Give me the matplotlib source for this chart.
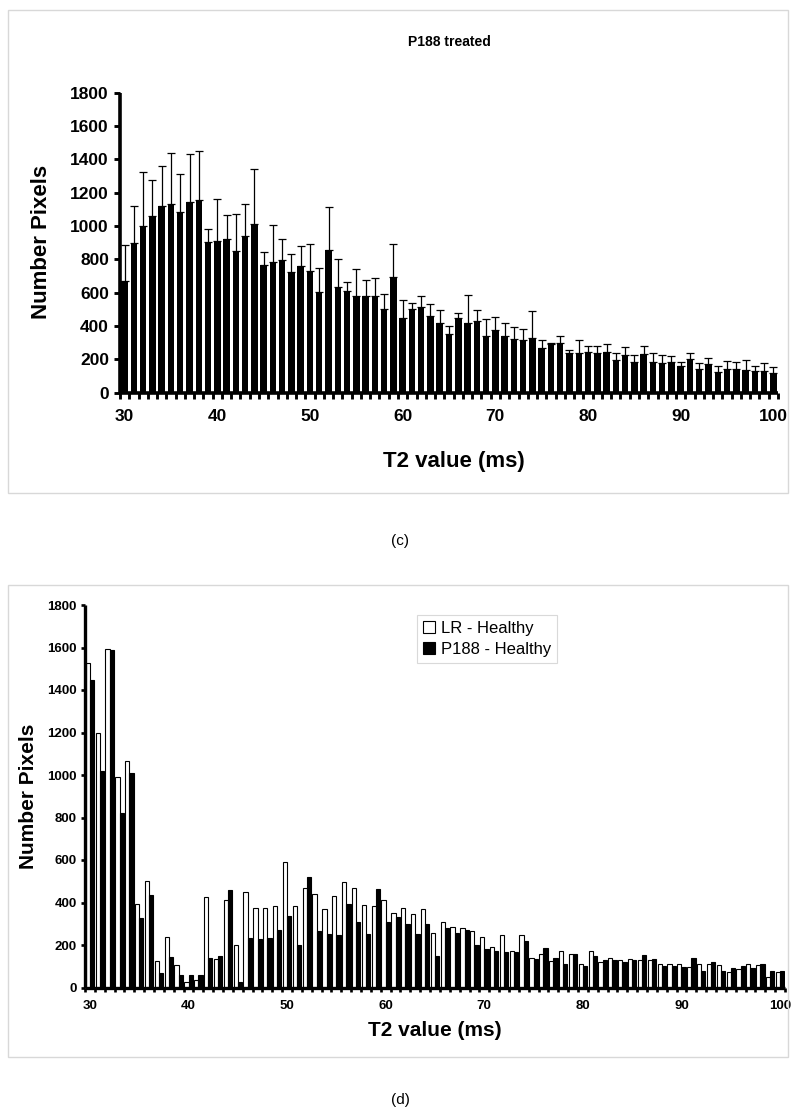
import numpy as np
import matplotlib
matplotlib.use("Agg")
import matplotlib.pyplot as plt
from matplotlib.patches import Rectangle, Patch

# ---------------- data ----------------
t2_values = list(range(30, 101))
xtick_labels = ['30', '40', '50', '60', '70', '80', '90', '100']
ytick_values = [0, 200, 400, 600, 800, 1000, 1200, 1400, 1600, 1800]

# (c) P188 treated: mean and upper error
treated_mean = [670, 900, 1000, 1060, 1120, 1135, 1085, 1145, 1155, 905,
                910, 925, 850, 940, 1015, 765, 785, 795, 725, 760,
                728, 607, 857, 635, 612, 582, 580, 580, 504, 692,
                447, 500, 516, 462, 420, 350, 446, 420, 428, 343,
                378, 343, 322, 314, 330, 270, 290, 296, 236, 240,
                246, 240, 246, 198, 226, 184, 234, 184, 178, 184,
                158, 204, 142, 170, 124, 142, 142, 136, 130, 130,
                116]
treated_top = [885, 1120, 1325, 1275, 1360, 1440, 1315, 1435, 1450, 980,
               1165, 1065, 1070, 1135, 1340, 845, 1005, 920, 835, 880,
               892, 746, 1116, 800, 664, 740, 676, 690, 592, 893,
               555, 536, 578, 534, 498, 400, 478, 588, 498, 444,
               456, 420, 394, 380, 490, 316, 300, 342, 258, 316,
               282, 282, 294, 238, 276, 226, 282, 238, 226, 218,
               184, 238, 178, 210, 158, 190, 184, 196, 158, 176,
               156]
treated_err = [t - m for t, m in zip(treated_top, treated_mean)]

# (d) differences
lr_healthy = [1525, 1200, 1595, 990, 1065, 395, 500, 125, 240, 105,
              25, 35, 425, 135, 410, 200, 450, 375, 375, 385,
              590, 385, 470, 440, 370, 430, 495, 470, 390, 385,
              410, 350, 375, 345, 370, 255, 310, 285, 280, 265,
              240, 190, 245, 170, 245, 140, 160, 125, 170, 160,
              110, 170, 120, 140, 130, 135, 130, 130, 110, 110,
              110, 95, 110, 110, 105, 75, 85, 110, 105, 50,
              75]
p188_healthy = [1445, 1020, 1590, 820, 1010, 325, 435, 70, 145, 60,
                60, 60, 140, 150, 460, 25, 235, 230, 235, 270,
                335, 200, 520, 265, 250, 245, 395, 310, 250, 465,
                310, 330, 300, 250, 300, 150, 280, 255, 270, 200,
                180, 170, 165, 165, 220, 135, 185, 140, 110, 160,
                100, 150, 130, 130, 120, 130, 155, 135, 100, 100,
                95, 140, 80, 120, 80, 90, 100, 90, 110, 80,
                80]
legend_labels = ['LR - Healthy', 'P188 - Healthy']

# ---------------- figure ----------------
plt.rcParams['font.family'] = ['Liberation Sans', 'DejaVu Sans']
W, H = 800, 1120
fig = plt.figure(figsize=(W / 100, H / 100), dpi=100)


def fx(px):
    return px / W


def fy(py):
    return 1 - py / H


# panel frames
for (x0, y0, x1, y1) in [(8, 10, 788, 493), (8, 585, 788, 1057)]:
    fig.patches.append(Rectangle((fx(x0), fy(y1)), fx(x1) - fx(x0), fy(y0) - fy(y1),
                                 transform=fig.transFigure, fill=False,
                                 edgecolor='#d8d8d8', lw=1.0))

x = np.arange(len(t2_values))
label_pos = [t2_values.index(int(s)) for s in xtick_labels]


def style_axis(ax, lw, ylab_size, xlab_size, xpad, ypad, tlen):
    for s in ['top', 'right']:
        ax.spines[s].set_visible(False)
    for s in ['left', 'bottom']:
        ax.spines[s].set_linewidth(lw)
        ax.spines[s].set_capstyle('butt')
    ax.set_xlim(-0.5, len(t2_values) - 0.5)
    ax.set_ylim(0, 1800)
    ax.set_yticks(ytick_values)
    ax.set_yticklabels([str(v) for v in ytick_values], fontweight='bold', fontsize=ylab_size)
    ax.set_xticks(label_pos)
    ax.set_xticklabels(xtick_labels, fontweight='bold', fontsize=xlab_size)
    ax.set_xticks(np.arange(len(t2_values) + 1) - 0.5, minor=True)
    ax.tick_params(axis='x', which='major', length=0, pad=xpad)
    ax.tick_params(axis='x', which='minor', length=tlen, width=lw * 0.8, direction='out')
    ax.tick_params(axis='y', which='major', length=tlen, width=lw * 0.8, direction='out', pad=ypad)


# ---- (c) ----
ax1 = fig.add_axes([fx(120), fy(392.7), fx(778) - fx(120), fy(92.7) - fy(392.7)])
ax1.bar(x, treated_mean, width=0.7, color='black', edgecolor='black', linewidth=0,
        yerr=[np.zeros(len(x)), treated_err],
        error_kw=dict(ecolor='black', elinewidth=0.9, capsize=3, capthick=0.9))
style_axis(ax1, 2.6, 12.5, 12.5, 12, 4, 4)
fig.text(fx(449), fy(42), 'P188 treated', ha='center', va='center',
         fontweight='bold', fontsize=10)
fig.text(fx(454), fy(462), 'T2 value (ms)', ha='center', va='center',
         fontweight='bold', fontsize=16)
fig.text(fx(42), fy(242), 'Number Pixels', ha='center', va='center',
         rotation=90, fontweight='bold', fontsize=16)
fig.text(fx(400), fy(541), '(c)', ha='center', va='center', fontsize=11)

# ---- (d) ----
ax2 = fig.add_axes([fx(85), fy(987.5), fx(785) - fx(85), fy(605) - fy(987.5)])
bw = 0.43
ax2.bar(x - bw / 2, lr_healthy, width=bw, color='white', edgecolor='black', linewidth=0.8)
ax2.bar(x + bw / 2, p188_healthy, width=bw, color='black', edgecolor='black', linewidth=0.8)
style_axis(ax2, 2.4, 9.5, 9.5, 9, 3, 3)
fig.text(fx(435), fy(1031), 'T2 value (ms)', ha='center', va='center',
         fontweight='bold', fontsize=15)
fig.text(fx(28), fy(796), 'Number Pixels', ha='center', va='center',
         rotation=90, fontweight='bold', fontsize=15)
fig.text(fx(400), fy(1100), '(d)', ha='center', va='center', fontsize=11)

handles = [Patch(facecolor='white', edgecolor='black', linewidth=0.8),
           Patch(facecolor='black', edgecolor='black', linewidth=0.8)]
leg = ax2.legend(handles, legend_labels, loc='upper left',
                 bbox_to_anchor=(fx(417), fy(615)), bbox_transform=fig.transFigure,
                 borderaxespad=0, fontsize=12, frameon=True, fancybox=False,
                 handlelength=0.7, handleheight=0.7, handletextpad=0.4,
                 labelspacing=0.35, borderpad=0.35)
leg.get_frame().set_edgecolor('#d0d0d0')
leg.get_frame().set_linewidth(0.8)

fig.savefig('out.png', dpi=100)
